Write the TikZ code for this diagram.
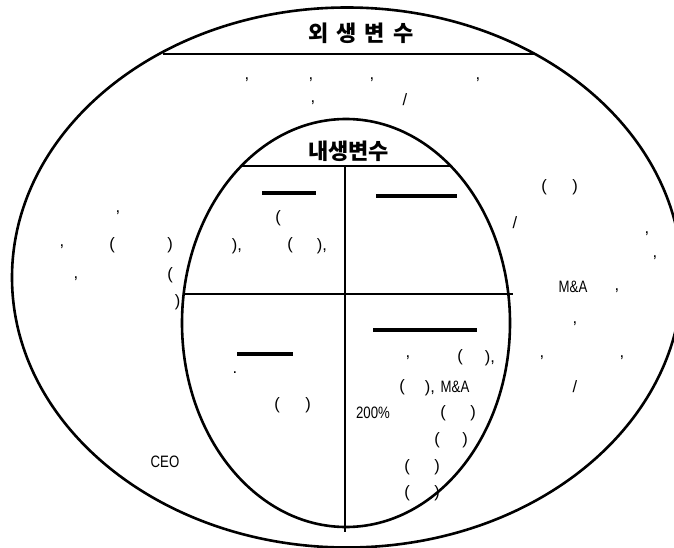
\documentclass[tikz,border=0pt]{standalone}
\usepackage{fontspec}
\usepackage{graphicx}
\setmainfont{Liberation Sans}
\newfontfamily\kofont{Noto Sans CJK KR}
\newcommand{\squeeze}[1]{\scalebox{0.8}[1]{#1}}
\tikzset{
  txt/.style={inner sep=0pt,font=\fontsize{16.5}{16.5}\selectfont},
  head/.style={inner sep=0pt,font=\kofont\bfseries\fontsize{22}{22}\selectfont},
  rim/.style={line width=2.6pt},
  split/.style={line width=2.2pt},
  bar/.style={line width=4.5pt}
}
\begin{document}
\begin{tikzpicture}[x=1pt,y=-1pt]
  \useasboundingbox (0,0) rectangle (674,548);
  % the two ellipses
  \draw[rim] (347,277.5) ellipse [x radius=335pt,y radius=270pt];
  \draw[rim] (346,323) ellipse [x radius=164pt,y radius=204pt];
  \coordinate (outL) at (163,54);
  \coordinate (outR) at (535,54);
  \coordinate (inL) at (242,166);
  \coordinate (inR) at (450,166);
  \coordinate (midL) at (183,294);
  \coordinate (midR) at (513,294);
  \coordinate (axT) at (345,166);
  \coordinate (axB) at (345,532);
  \draw[split] (outL) -- (outR);
  \draw[split] (inL) -- (inR);
  \draw[split] (midL) -- (midR);
  \draw[split] (axT) -- (axB);
  % headings
  \node[head] (exo) at (361,33) {외\hspace{8pt}생\hspace{8pt}변\hspace{8pt}수};
  \node[head] (endo) at (348.5,151) {내생변수};
  % bars of the four quadrants
  \draw[bar] (262,193) -- (316,193);
  \draw[bar] (376,196) -- (457,196);
  \draw[bar] (237,354) -- (293,354);
  \draw[bar] (373,330) -- (477,330);
  % outer band, top
  \node[txt] (a1) at (247,80) {,};
  \node[txt] (a2) at (311,80) {,};
  \node[txt] (a3) at (372,80) {,};
  \node[txt] (a4) at (478,80) {,};
  \node[txt] (a5) at (313,103) {,};
  \node[txt] (a6) at (405,100) {/};
  % left side
  \node[txt] (b1) at (118,213) {,};
  \node[txt] (b2) at (62,247) {,};
  \node[txt] (b3) at (112,245) {(};
  \node[txt] (b4) at (170,245) {)};
  \node[txt] (b5) at (76,279) {,};
  \node[txt] (b6) at (170,275) {(};
  \node[txt] (b7) at (180,302) {),};
  % top-left quadrant
  \node[txt] (c1) at (278,218) {(};
  \node[txt] (c2) at (237,246) {),};
  \node[txt] (c3) at (290,245) {(};
  \node[txt] (c4) at (322,246) {),};
  % right side
  \node[txt] (d1) at (544,187) {(};
  \node[txt] (d2) at (575,187) {)};
  \node[txt] (d3) at (515,223) {/};
  \node[txt] (d4) at (647,234) {,};
  \node[txt] (d5) at (655,258) {,};
  \node[txt] (d6) at (573,287) {\squeeze{M\&A}};
  \node[txt] (d7) at (617,291) {,};
  \node[txt] (d8) at (575,324) {,};
  \node[txt] (d9) at (542,358) {,};
  \node[txt] (d10) at (622,358) {,};
  \node[txt] (d11) at (575,387) {/};
  % bottom-left quadrant
  \node[txt] (e1) at (235,373) {.};
  \node[txt] (e2) at (277,405) {(};
  \node[txt] (e3) at (308,405) {)};
  \node[txt] (e4) at (165,462) {\squeeze{CEO}};
  % bottom-right quadrant
  \node[txt] (f1) at (408,358) {,};
  \node[txt] (f2) at (460,357) {(};
  \node[txt] (f3) at (490,358) {),};
  \node[txt] (f4) at (402,387) {(};
  \node[txt] (f5) at (430,388) {),};
  \node[txt] (f6) at (455,387) {\squeeze{M\&A}};
  \node[txt] (f7) at (373,413) {\squeeze{200\%}};
  \node[txt] (f8) at (443,413) {(};
  \node[txt] (f9) at (473,413) {)};
  \node[txt] (f10) at (437,440) {(};
  \node[txt] (f11) at (465,440) {)};
  \node[txt] (f12) at (407,467) {(};
  \node[txt] (f13) at (437,467) {)};
  \node[txt] (f14) at (407,493) {(};
  \node[txt] (f15) at (437,493) {)};
\end{tikzpicture}
\end{document}
